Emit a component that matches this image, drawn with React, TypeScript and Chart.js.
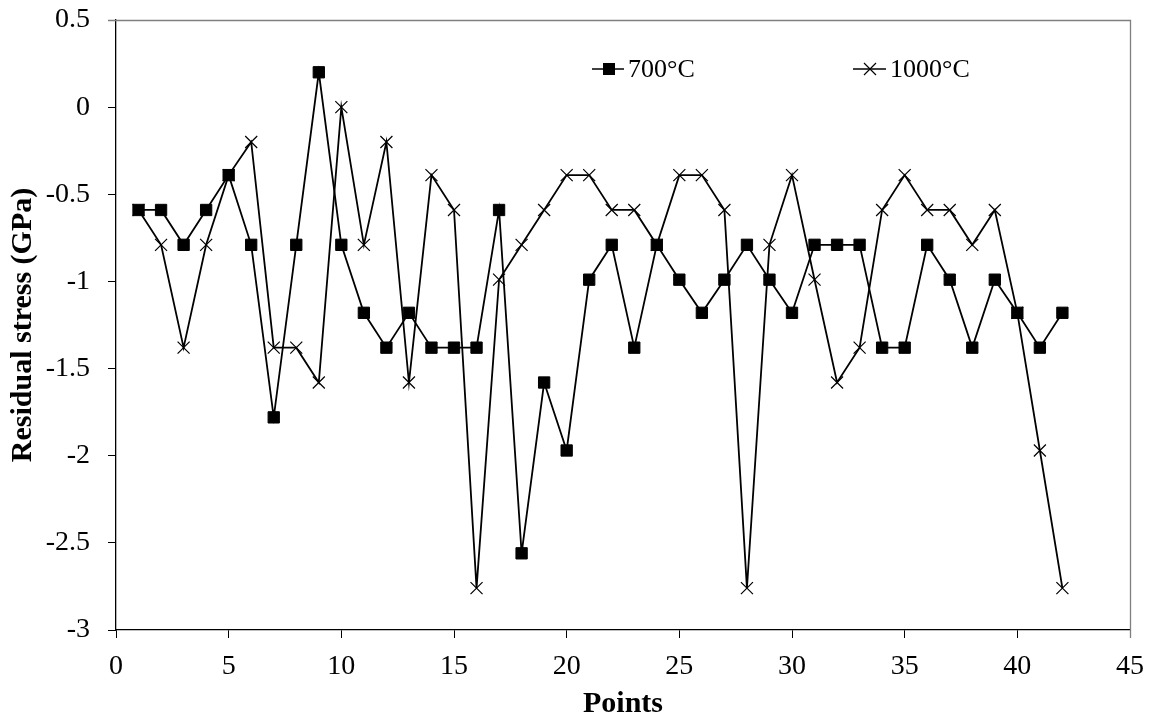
import React, { useEffect, useRef } from 'react';
import { Chart, registerables } from 'chart.js';

Chart.register(...registerables);

// ---- data ----
const points = [
  1, 2, 3, 4, 5, 6, 7, 8, 9, 10, 11, 12, 13, 14, 15, 16, 17, 18, 19, 20, 21,
  22, 23, 24, 25, 26, 27, 28, 29, 30, 31, 32, 33, 34, 35, 36, 37, 38, 39, 40, 41, 42,
];
const stress700 = [
  -0.59, -0.59, -0.79, -0.59, -0.39, -0.79, -1.78, -0.79, 0.2, -0.79, -1.18,
  -1.38, -1.18, -1.38, -1.38, -1.38, -0.59, -2.56, -1.58, -1.97, -0.99,
  -0.79, -1.38, -0.79, -0.99, -1.18, -0.99, -0.79, -0.99, -1.18, -0.79,
  -0.79, -0.79, -1.38, -1.38, -0.79, -0.99, -1.38, -0.99, -1.18, -1.38, -1.18,
];
const stress1000 = [
  -0.59, -0.79, -1.38, -0.79, -0.39, -0.2, -1.38, -1.38, -1.58, 0.0, -0.79,
  -0.2, -1.58, -0.39, -0.59, -2.76, -0.99, -0.79, -0.59, -0.39, -0.39,
  -0.59, -0.59, -0.79, -0.39, -0.39, -0.59, -2.76, -0.79, -0.39, -0.99,
  -1.58, -1.38, -0.59, -0.39, -0.59, -0.59, -0.79, -0.59, -1.18, -1.97, -2.76,
];
const seriesLabels = ['700°C', '1000°C'];
const xTitle = 'Points';
const yTitle = 'Residual stress (GPa)';
const xMin = 0;
const xMax = 45;
const xStep = 5;
const yMin = -3;
const yMax = 0.5;
const yStep = 0.5;

const FONT = '"Liberation Serif", "Times New Roman", Times, serif';

const frameAndLegend = {
  id: 'frameAndLegend',
  afterDraw(chart: any) {
    const { ctx, chartArea } = chart;
    ctx.save();
    // gray top & right frame
    ctx.strokeStyle = '#7f7f7f';
    ctx.lineWidth = 1.3;
    ctx.beginPath();
    ctx.moveTo(chartArea.left - 8, chartArea.top + 0.5);
    ctx.lineTo(chartArea.right + 0.5, chartArea.top + 0.5);
    ctx.lineTo(chartArea.right + 0.5, chartArea.bottom + 8);
    ctx.stroke();

    // legend
    ctx.strokeStyle = '#000';
    ctx.fillStyle = '#000';
    ctx.lineWidth = 1.5;
    ctx.font = `26px ${FONT}`;
    ctx.textBaseline = 'alphabetic';
    ctx.textAlign = 'left';
    const ly = 69;
    // 700
    ctx.beginPath();
    ctx.moveTo(592, ly);
    ctx.lineTo(624, ly);
    ctx.stroke();
    ctx.fillRect(609 - 6, ly - 6, 12, 12);
    ctx.fillText(chart.data.datasets[0].label, 628, 77);
    // 1000
    ctx.beginPath();
    ctx.moveTo(853, ly);
    ctx.lineTo(886, ly);
    ctx.stroke();
    ctx.lineWidth = 1.2;
    ctx.beginPath();
    ctx.moveTo(870 - 6, ly - 6);
    ctx.lineTo(870 + 6, ly + 6);
    ctx.moveTo(870 - 6, ly + 6);
    ctx.lineTo(870 + 6, ly - 6);
    ctx.stroke();
    ctx.fillText(chart.data.datasets[1].label, 890, 77);
    ctx.restore();
  },
};

export default function App() {
  const ref = useRef<HTMLCanvasElement | null>(null);

  useEffect(() => {
    if (!ref.current) return;
    const chart = new Chart(ref.current, {
      type: 'line',
      data: {
        datasets: [
          {
            label: seriesLabels[0],
            data: points.map((p, i) => ({ x: p, y: stress700[i] })),
            borderColor: '#000',
            backgroundColor: '#000',
            borderWidth: 1.8,
            pointStyle: 'rect',
            pointRadius: 8,
            pointBorderWidth: 1,
            pointBackgroundColor: '#000',
            pointBorderColor: '#000',
            tension: 0,
          },
          {
            label: seriesLabels[1],
            data: points.map((p, i) => ({ x: p, y: stress1000[i] })),
            borderColor: '#000',
            backgroundColor: '#000',
            borderWidth: 1.8,
            pointStyle: 'crossRot',
            pointRadius: 8.5,
            pointBorderWidth: 1.2,
            pointBorderColor: '#000',
            tension: 0,
          },
        ],
      },
      options: {
        responsive: false,
        animation: false,
        layout: { autoPadding: false, padding: { left: 0, top: 20, right: 25, bottom: 0 } },
        plugins: {
          legend: { display: false },
          tooltip: { enabled: false },
        },
        scales: {
          x: {
            type: 'linear',
            min: xMin,
            max: xMax,
            ticks: {
              stepSize: xStep,
              color: '#000',
              font: { family: FONT, size: 28 },
              padding: 12,
              maxRotation: 0,
              callback: (v: any) => String(v),
            },
            grid: { drawOnChartArea: false, drawTicks: true, tickLength: 8, color: '#000', lineWidth: 1 },
            border: { color: '#000', width: 1.3 },
            title: {
              display: true,
              text: xTitle,
              color: '#000',
              font: { family: FONT, size: 30, weight: 'bold' },
              padding: { top: 0, bottom: 0 },
            },
            afterFit(scale: any) {
              scale.height = 92;
              scale.paddingLeft = 0;
              scale.paddingRight = 0;
            },
          },
          y: {
            type: 'linear',
            min: yMin,
            max: yMax,
            ticks: {
              stepSize: yStep,
              color: '#000',
              font: { family: FONT, size: 28 },
              padding: 18,
              callback: (v: any) => String(Math.round(v * 10) / 10),
            },
            grid: { drawOnChartArea: false, drawTicks: true, tickLength: 8, color: '#000', lineWidth: 1 },
            border: { color: '#000', width: 1.3 },
            title: {
              display: true,
              text: yTitle,
              color: '#000',
              font: { family: FONT, size: 30, weight: 'bold' },
              padding: { top: 5, bottom: 0 },
            },
            afterFit(scale: any) {
              scale.width = 116;
              scale.paddingTop = 0;
              scale.paddingBottom = 0;
            },
          },
        },
      },
      plugins: [frameAndLegend],
    });
    return () => chart.destroy();
  }, []);

  return (
    <div style={{ position: 'absolute', left: 0, top: 0, width: 1155, height: 722, background: '#fff' }}>
      <canvas ref={ref} width={1155} height={722} />
    </div>
  );
}
